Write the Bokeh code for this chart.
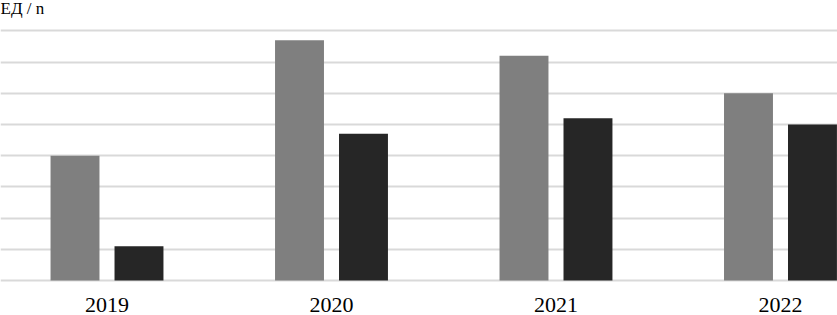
from bokeh.plotting import figure
from bokeh.models import FixedTicker, Label, ColumnDataSource, Range1d
from bokeh.embed import file_html
from bokeh.resources import INLINE

years = ["2019", "2020", "2021", "2022"]
series_a = [4.0, 7.7, 7.2, 6.0]
series_b = [1.1, 4.7, 5.2, 5.0]
y_label = "ЕД / n"

xs = list(range(len(years)))
off = 0.1425
bw = 0.218

W, H = 837, 315
BB = 31
p = figure(width=W, height=H, output_backend="svg", toolbar_location=None,
           x_range=Range1d(-0.4744, 3.254), y_range=Range1d(-0.128, 8.974),
           min_border_left=0, min_border_right=0, min_border_top=0, min_border_bottom=BB)

src = ColumnDataSource(dict(xa=[x - off for x in xs], xb=[x + off for x in xs], a=series_a, b=series_b))
p.vbar(x="xa", top="a", bottom=0, width=bw, source=src, fill_color="#7f7f7f", line_color=None)
p.vbar(x="xb", top="b", bottom=0, width=bw, source=src, fill_color="#262626", line_color=None)

p.xgrid.visible = False
p.ygrid.ticker = FixedTicker(ticks=list(range(9)))
p.ygrid.grid_line_color = "#d9d9d9"
p.ygrid.grid_line_width = 2
p.ygrid.level = "underlay"
p.yaxis.visible = False
p.outline_line_color = None

p.xaxis.ticker = FixedTicker(ticks=xs)
p.xaxis.major_label_overrides = {i: y for i, y in enumerate(years)}
p.xaxis.axis_line_color = None
p.xaxis.major_tick_line_color = None
p.xaxis.minor_tick_line_color = None
p.xaxis.major_label_text_font = "Liberation Serif"
p.xaxis.major_label_text_font_size = "22px"
p.xaxis.major_label_text_color = "#000000"
p.xaxis.major_label_standoff = 7

p.add_layout(Label(x=0, y=H - BB + 2, x_units="screen", y_units="screen", text=y_label,
                   text_font="Liberation Serif", text_font_size="17px", text_color="#000000",
                   text_baseline="top"))

open("out.html", "w").write(file_html(p, INLINE))
